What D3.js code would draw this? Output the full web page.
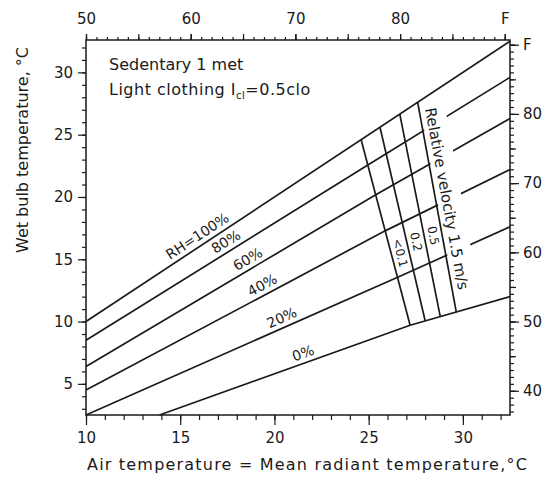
<!DOCTYPE html>
<html>
<head>
<meta charset="utf-8">
<script src="https://cdn.jsdelivr.net/npm/d3@7"></script>
<style>
body { margin: 0; background: #fff; }
svg { font-family: "DejaVu Sans", sans-serif; }
</style>
</head>
<body>
<svg id="chart" width="550" height="477"></svg>
<script>
// Comfort chart: wet bulb vs air temperature, RH lines crossed by air velocity lines

var airTicks = d3.range(10, 33);            // deg C, bottom axis
var airLabels = [10, 15, 20, 25, 30];
var wetTicks = d3.range(3, 33);             // deg C, left axis
var wetLabels = [5, 10, 15, 20, 25, 30];
var fTopTicks = d3.range(50, 91);           // deg F, top axis
var fRightTicks = d3.range(37, 91);         // deg F, right axis
var fMid = [40, 45, 50, 55, 60, 65, 70, 75, 80, 85, 90];
var fLabels = [40, 50, 60, 70, 80, 90];

// relative humidity lines: air temp (C) / wet bulb (C)
var rhNames = ["RH=100%", "80%", "60%", "40%", "20%", "0%"];
var rhAir = [[10, 32.5], [10, 25, 32.5], [10, 25.4, 32.5], [10, 25.9, 32.5], [10, 26.6, 32.5], [13.9, 27.2, 32.5]];
var rhWet = [[10, 32.5], [8.5, 22.6, 29.6], [6.4, 20.2, 26.3], [4.5, 17.3, 22.2], [2.5, 13.6, 17.6], [2.5, 9.7, 12.0]];
var rhLabelAir = [16.2, 17.7, 18.85, 19.6, 20.6, 21.7];

// relative velocity lines: air temp where they meet RH 100% (top) and RH 0% (bottom)
var velNames = ["<0.1", "0.2", "0.5", "1.5"];
var velTopAir = [24.6, 25.6, 26.65, 27.6];
var velBotAir = [27.2, 28.0, 28.8, 29.65];
var velLabelWet = [15.5, 16.4, 16.9];

var svg = d3.select("#chart");
var W = +svg.attr("width"), H = +svg.attr("height");
var margin = {top: 40, right: 40, bottom: 62, left: 86};

var x = d3.scaleLinear().domain([10, 32.5]).range([margin.left, W - margin.right]);
var y = d3.scaleLinear().domain([2.5, 32.6]).range([H - margin.bottom, margin.top]);
var toF = c => c * 9 / 5 + 32;
var xF = d3.scaleLinear().domain(x.domain().map(toF)).range(x.range());
var yF = d3.scaleLinear().domain(y.domain().map(toF)).range(y.range());

var ink = "#1a1a1a";
var line = d3.line().x(d => x(d[0])).y(d => y(d[1]));

// RH curves
var rh = rhNames.map((n, i) => ({
	name: n,
	pts: rhAir[i].map((a, j) => [a, rhWet[i][j]]),
	wetAt: d3.scaleLinear().domain(rhAir[i]).range(rhWet[i]),
	labelAir: rhLabelAir[i]
}));

svg.append("g")
	.selectAll("path")
	.data(rh)
	.enter().append("path")
	.attr("d", d => line(d.pts))
	.attr("fill", "none")
	.attr("stroke", ink)
	.attr("stroke-width", 1.7);

// velocity lines
var vel = velNames.map((n, i) => ({
	name: n,
	p0: [velTopAir[i], rh[0].wetAt(velTopAir[i])],
	p1: [velBotAir[i], rh[5].wetAt(velBotAir[i])]
}));
vel.forEach(v => {
	v.ang = Math.atan2(y(v.p1[1]) - y(v.p0[1]), x(v.p1[0]) - x(v.p0[0])) * 180 / Math.PI;
});
function airOn(v, w) {
	return v.p0[0] + (w - v.p0[1]) / (v.p1[1] - v.p0[1]) * (v.p1[0] - v.p0[0]);
}

// "Relative velocity" label with white gap behind it
var last = vel[3];
var th = last.ang * Math.PI / 180;
var lw = 19.7;
var px = x(airOn(last, lw)) + 11 * Math.sin(th);
var py = y(lw) - 11 * Math.cos(th);
var relG = svg.append("g").attr("transform", "translate(" + px + "," + py + ") rotate(" + last.ang + ")");
var relBg = relG.append("rect").attr("fill", "#fff");
var relT = relG.append("text")
	.text("Relative velocity 1.5 m/s")
	.attr("text-anchor", "middle")
	.attr("dominant-baseline", "central")
	.attr("font-size", 15)
	.attr("fill", ink);
var L = relT.node().getComputedTextLength();
relBg.attr("x", -L / 2 - 4).attr("width", L + 8).attr("y", -15).attr("height", 24.5);

svg.append("g")
	.selectAll("line")
	.data(vel)
	.enter().append("line")
	.attr("x1", v => x(v.p0[0])).attr("y1", v => y(v.p0[1]))
	.attr("x2", v => x(v.p1[0])).attr("y2", v => y(v.p1[1]))
	.attr("stroke", ink)
	.attr("stroke-width", 1.7);

// velocity value labels, between neighbouring lines
svg.append("g")
	.selectAll("text")
	.data(velLabelWet)
	.enter().append("text")
	.text((w, i) => velNames[i])
	.attr("transform", (w, i) => {
		var a = (airOn(vel[i], w) + airOn(vel[i + 1], w)) / 2;
		return "translate(" + x(a) + "," + y(w) + ") rotate(" + ((vel[i].ang + vel[i + 1].ang) / 2) + ")";
	})
	.attr("text-anchor", "middle")
	.attr("dominant-baseline", "central")
	.attr("font-size", 12)
	.attr("fill", ink);

// RH labels along their lines
svg.append("g")
	.selectAll("text")
	.data(rh)
	.enter().append("text")
	.text(d => d.name)
	.attr("transform", d => {
		var a = d.labelAir, w = d.wetAt(a);
		var ang = Math.atan2(y(d.wetAt(a + 0.5)) - y(d.wetAt(a - 0.5)), x(a + 0.5) - x(a - 0.5)) * 180 / Math.PI;
		return "translate(" + x(a) + "," + y(w) + ") rotate(" + ang + ")";
	})
	.attr("y", -5)
	.attr("text-anchor", "middle")
	.attr("font-size", 14)
	.attr("fill", ink);

// frame
svg.append("rect")
	.attr("x", x.range()[0]).attr("y", y.range()[1])
	.attr("width", x.range()[1] - x.range()[0])
	.attr("height", y.range()[0] - y.range()[1])
	.attr("fill", "none")
	.attr("stroke", ink)
	.attr("stroke-width", 1.5);

// axes
function addAxis(axis, tx, ty) {
	var g = svg.append("g")
		.attr("transform", "translate(" + tx + "," + ty + ")")
		.call(axis);
	g.select(".domain").remove();
	g.selectAll("line").attr("stroke", ink).attr("stroke-width", 1.2);
	g.selectAll("text").attr("font-size", 15).attr("fill", ink).attr("font-family", "DejaVu Sans");
	return g;
}
var bottomY = y.range()[0], topY = y.range()[1];
var leftX = x.range()[0], rightX = x.range()[1];
var fFmt = f => f == 90 ? "F" : f;

addAxis(d3.axisBottom(x).tickValues(airTicks).tickSize(5).tickFormat(""), 0, bottomY);
addAxis(d3.axisBottom(x).tickValues(airLabels).tickSize(10).tickPadding(7), 0, bottomY);

addAxis(d3.axisLeft(y).tickValues(wetTicks).tickSize(4).tickFormat(""), leftX, 0);
addAxis(d3.axisLeft(y).tickValues(wetLabels).tickSize(8).tickPadding(5), leftX, 0);

addAxis(d3.axisTop(xF).tickValues(fTopTicks).tickSize(3).tickFormat(""), 0, topY);
addAxis(d3.axisTop(xF).tickValues(fMid.filter(f => f >= 50)).tickSize(6).tickFormat(""), 0, topY);
addAxis(d3.axisTop(xF).tickValues(fLabels.filter(f => f >= 50)).tickSize(6).tickPadding(10).tickFormat(fFmt), 0, topY);

addAxis(d3.axisRight(yF).tickValues(fRightTicks).tickSize(4).tickFormat(""), rightX, 0);
addAxis(d3.axisRight(yF).tickValues(fMid).tickSize(6).tickFormat(""), rightX, 0);
addAxis(d3.axisRight(yF).tickValues(fLabels).tickSize(9).tickPadding(4).tickFormat(fFmt), rightX, 0);

// axis titles
svg.append("text")
	.attr("x", (85 + 530) / 2).attr("y", H - 7)
	.attr("text-anchor", "middle")
	.attr("font-size", 16)
	.attr("letter-spacing", 1.2)
	.attr("fill", ink)
	.text("Air temperature = Mean radiant temperature,°C");

svg.append("text")
	.attr("transform", "translate(28,150) rotate(-90)")
	.attr("text-anchor", "middle")
	.attr("font-size", 16)
	.attr("fill", ink)
	.text("Wet bulb temperature, °C");

// conditions note
var note = svg.append("g").attr("fill", ink).attr("font-size", 16);
note.append("text").attr("x", margin.left + 23).attr("y", margin.top + 30).text("Sedentary 1 met");
var t2 = note.append("text").attr("x", margin.left + 23).attr("y", margin.top + 55).attr("letter-spacing", 0.5);
t2.append("tspan").text("Light clothing I");
t2.append("tspan").attr("font-size", 10).attr("dy", 4).text("cl");
t2.append("tspan").attr("dy", -4).text("=0.5clo");
</script>
</body>
</html>
